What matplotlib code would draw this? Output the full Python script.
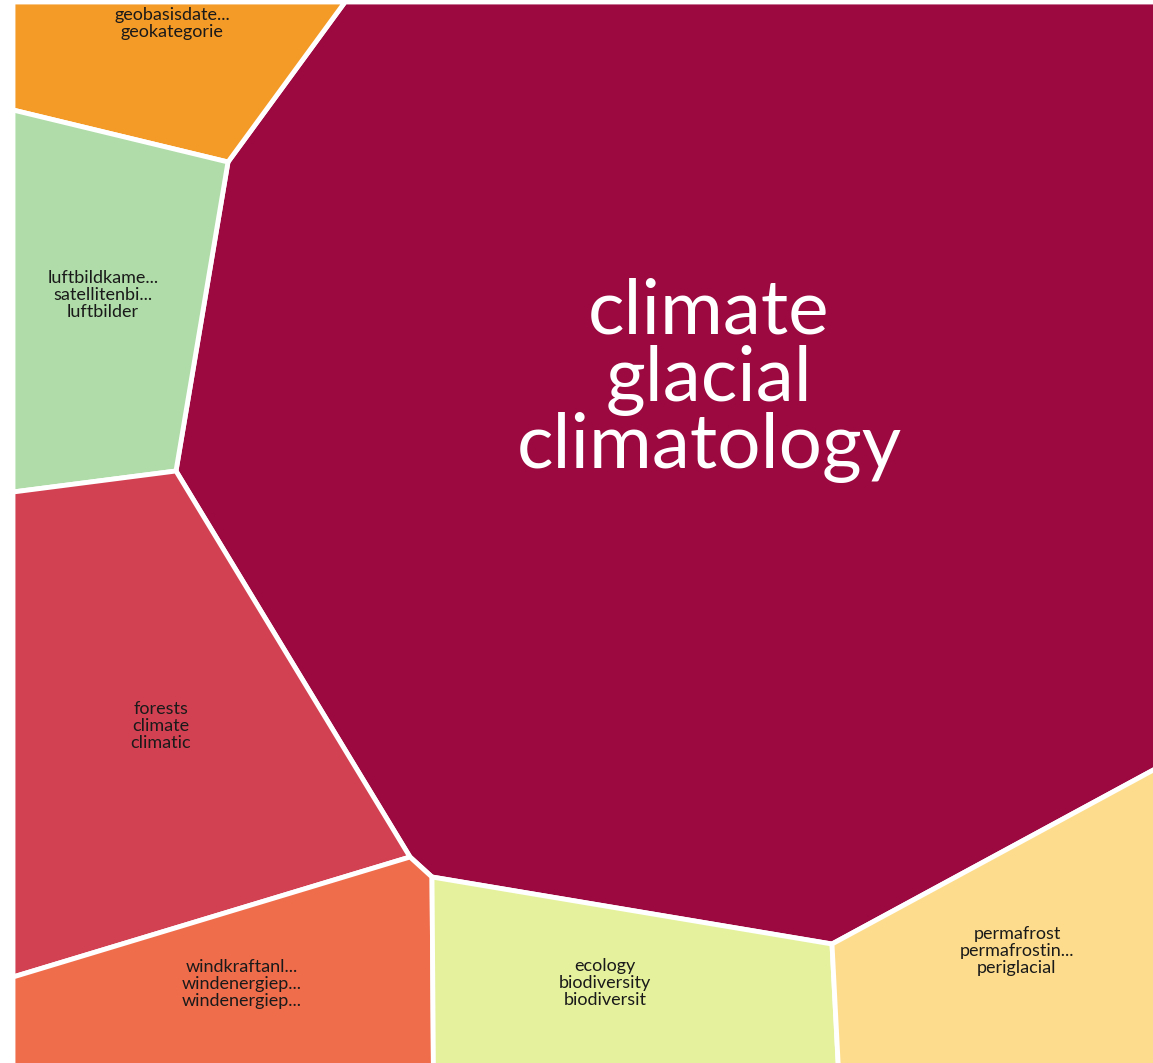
import matplotlib
matplotlib.use("Agg")
import matplotlib.pyplot as plt
from matplotlib.patches import Polygon

W, H = 1153, 1063

# Cell data (Voronoi treemap cells): labels, colors, polygon outlines, label anchor
labels = [
    ["climate", "glacial", "climatology"],
    ["geobasisdate...", "geokategorie"],
    ["luftbildkame...", "satellitenbi...", "luftbilder"],
    ["forests", "climate", "climatic"],
    ["windkraftanl...", "windenergiep...", "windenergiep..."],
    ["ecology", "biodiversity", "biodiversit"],
    ["permafrost", "permafrostin...", "periglacial"],
]
colors = ["#9B0940", "#F39A27", "#AFDCA8", "#D24152", "#F06D4C", "#E5F19D", "#FDDD8D"]
cells = [
    [(345, 2), (1170, 2), (1170, 761), (832, 944), (432, 877), (410, 857), (176, 471), (228, 162)],
    [(13, 2), (345, 2), (228, 162), (13, 110)],
    [(13, 110), (228, 162), (176, 471), (13, 492)],
    [(13, 492), (176, 471), (410, 857), (13, 977)],
    [(13, 977), (410, 857), (432, 877), (433.5, 1080), (13, 1080)],
    [(432, 877), (832, 944), (839, 1080), (433.5, 1080)],
    [(832, 944), (1170, 761), (1170, 1080), (839, 1080)],
]
# label anchor: x centre, baseline of the middle line
label_pos = [(709, 401), (172, 28.5), (103, 300), (161, 731), (242, 989), (605, 988), (1017, 956)]
label_size = [55, 13, 13, 13, 13, 13, 13]
line_gap = [67, 17, 17, 17, 17, 17, 17]
text_colors = ["white", "#1a1a1a", "#1a1a1a", "#1a1a1a", "#1a1a1a", "#1a1a1a", "#1a1a1a"]

fig = plt.figure(figsize=(W / 100, H / 100), dpi=100)
ax = fig.add_axes([0, 0, 1, 1])
ax.set_xlim(0, W)
ax.set_ylim(H, 0)
ax.axis("off")

for poly, col in zip(cells, colors):
    ax.add_patch(Polygon(poly, closed=True, facecolor=col, edgecolor="white",
                         linewidth=3.5, joinstyle="round"))

for lines, (cx, cy), fs, gap, tc in zip(labels, label_pos, label_size, line_gap, text_colors):
    n = len(lines)
    for i, t in enumerate(lines):
        y = cy + (i - (n - 1) / 2) * gap
        ax.text(cx, y, t, ha="center", va="baseline", fontsize=fs, color=tc,
                family=["Lato", "DejaVu Sans"])

fig.savefig("out.png", dpi=100, facecolor="white")
